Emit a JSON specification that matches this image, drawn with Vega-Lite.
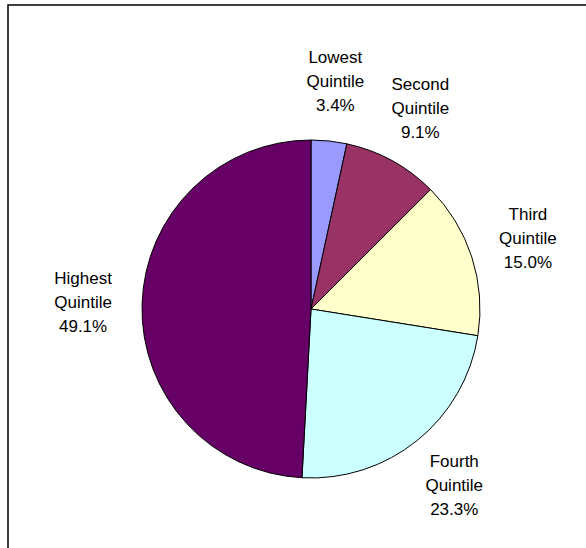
{
  "$schema": "https://vega.github.io/schema/vega-lite/v6.json",
  "width": 580,
  "height": 545,
  "autosize": "none",
  "padding": {"left": 8, "top": 5, "right": 0, "bottom": 0},
  "background": "white",
  "view": {"stroke": "black", "strokeWidth": 1.5, "fill": "white"},
  "data": {
    "values": [
      {"quintile": "Lowest Quintile", "order": 1, "share": 3.4, "label": "Lowest\nQuintile\n3.4%"},
      {"quintile": "Second Quintile", "order": 2, "share": 9.1, "label": "Second\nQuintile\n9.1%"},
      {"quintile": "Third Quintile", "order": 3, "share": 15.0, "label": "Third\nQuintile\n15.0%"},
      {"quintile": "Fourth Quintile", "order": 4, "share": 23.3, "label": "Fourth\nQuintile\n23.3%"},
      {"quintile": "Highest Quintile", "order": 5, "share": 49.1, "label": "Highest\nQuintile\n49.1%"}
    ]
  },
  "encoding": {
    "theta": {"field": "share", "type": "quantitative", "stack": true},
    "order": {"field": "order", "type": "quantitative"}
  },
  "layer": [
    {
      "mark": {"type": "arc", "radius": 169, "stroke": "black", "strokeWidth": 1, "xOffset": 13, "yOffset": 31.5},
      "encoding": {
        "color": {
          "field": "quintile",
          "type": "nominal",
          "scale": {
            "domain": ["Lowest Quintile", "Second Quintile", "Third Quintile", "Fourth Quintile", "Highest Quintile"],
            "range": ["#9999FF", "#993366", "#FFFFCC", "#CCFFFF", "#660066"]
          },
          "legend": null
        }
      }
    },
    {
      "mark": {"type": "text", "radius": 228, "xOffset": 13, "yOffset": 7.5, "font": "Liberation Sans", "fontSize": 17, "lineHeight": 24, "lineBreak": "\n", "align": "center", "baseline": "middle", "color": "black"},
      "encoding": {
        "text": {"field": "label", "type": "nominal"}
      }
    }
  ]
}
